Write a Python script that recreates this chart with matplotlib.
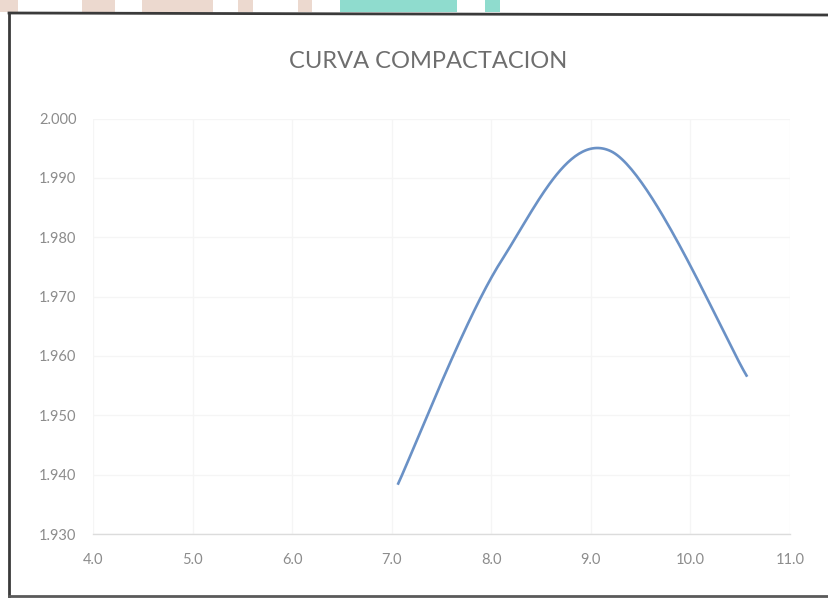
import numpy as np
import matplotlib
matplotlib.use("Agg")
import matplotlib.pyplot as plt
from matplotlib.patches import Rectangle
from matplotlib.lines import Line2D

# Compaction test results: moisture content (%) vs dry density
humedad = [7.06, 8.10, 9.20, 10.57]
densidad = [1.9383, 1.9760, 1.9945, 1.9565]

x_ticks = [4.0, 5.0, 6.0, 7.0, 8.0, 9.0, 10.0, 11.0]
y_ticks = [1.930, 1.940, 1.950, 1.960, 1.970, 1.980, 1.990, 2.000]
titulo = "CURVA COMPACTACION"


def smooth_curve(xs, ys, n=60):
    """Bezier smoothing through the points (spreadsheet-style smoothed line)."""
    pts = np.column_stack([xs, ys])
    k = len(pts)
    out = []
    for i in range(k - 1):
        p0 = pts[i - 1] if i > 0 else pts[i]
        p1 = pts[i]
        p2 = pts[i + 1]
        p3 = pts[i + 2] if i + 2 < k else pts[i + 1]
        c1 = p1 + (p2 - p0) / 6.0
        c2 = p2 - (p3 - p1) / 6.0
        t = np.linspace(0, 1, n)[:, None]
        seg = ((1 - t) ** 3) * p1 + 3 * ((1 - t) ** 2) * t * c1 \
            + 3 * (1 - t) * t ** 2 * c2 + t ** 3 * p2
        out.append(seg if i == 0 else seg[1:])
    arr = np.vstack(out)
    return arr[:, 0], arr[:, 1]


plt.rcParams['font.family'] = ['Lato', 'DejaVu Sans']

W, H = 829, 599
fig = plt.figure(figsize=(W / 100, H / 100), dpi=100)
fig.patch.set_facecolor('white')

# coloured page decoration above the chart frame
for x0, x1, col in [(0, 18, '#ecd9cf'), (82, 115, '#ecd9cf'), (142, 213, '#ecd9cf'),
                    (238, 253, '#ecd9cf'), (298, 312, '#ecd9cf'),
                    (340, 457, '#8fdcce'), (485, 500, '#8fdcce')]:
    fig.add_artist(Rectangle((x0 / W, 1 - 12 / H), (x1 - x0) / W, 12 / H,
                             transform=fig.transFigure, facecolor=col,
                             edgecolor='none', zorder=0))

# chart frame
fig.add_artist(Line2D([9 / W, 1.0], [1 - 13 / H, 1 - 15 / H], transform=fig.transFigure,
                      color='#3a3a3a', lw=2.0))
fig.add_artist(Line2D([9 / W, 9 / W], [1 - 13 / H, 1 - 596 / H], transform=fig.transFigure,
                      color='#3a3a3a', lw=2.0))
fig.add_artist(Line2D([9 / W, 1.0], [1 - 596 / H, 1 - 596 / H], transform=fig.transFigure,
                      color='#5a5a5a', lw=2.0))

left, right = 93 / W, 790 / W
bottom, top = 1 - 534 / H, 1 - 118.5 / H
ax = fig.add_axes([left, bottom, right - left, top - bottom])

xs, ys = smooth_curve(humedad, densidad)
ax.plot(xs, ys, color='#6a91c6', lw=1.9, solid_capstyle='butt', zorder=3)

ax.set_xlim(x_ticks[0], x_ticks[-1])
ax.set_ylim(y_ticks[0], y_ticks[-1])
ax.set_xticks(x_ticks)
ax.set_yticks(y_ticks)
ax.set_xticklabels([f"{v:.1f}" for v in x_ticks])
ax.set_yticklabels([f"{v:.3f}" for v in y_ticks])
ax.tick_params(length=0, labelsize=10.5, labelcolor='#8c8c8c', pad=12)
ax.tick_params(axis='x', pad=14)
ax.grid(True, color='#f5f5f5', lw=0.9)
ax.set_axisbelow(True)
for s in ['top', 'right', 'left']:
    ax.spines[s].set_visible(False)
ax.spines['bottom'].set_color('#dcdcdc')
ax.spines['bottom'].set_linewidth(1.0)

fig.text(428 / W, 1 - 62 / H, titulo, ha='center', va='center',
         fontsize=17, color='#6e6e6e')

fig.savefig('out.png', dpi=100)
